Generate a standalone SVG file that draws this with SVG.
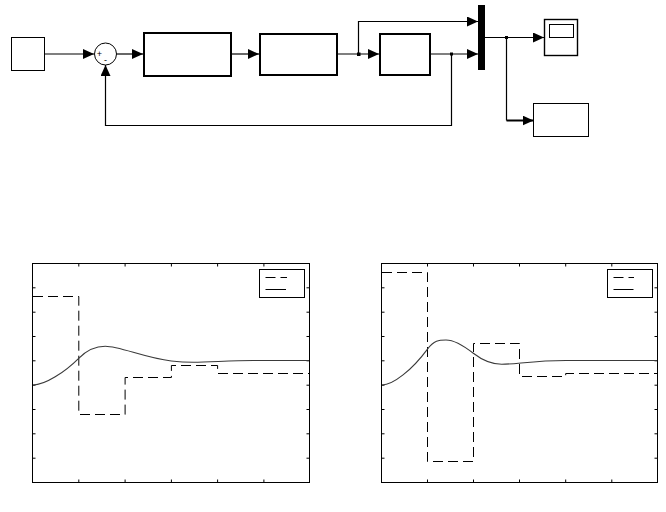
<svg xmlns="http://www.w3.org/2000/svg" width="666" height="512" viewBox="0 0 666 512">
<defs>
<style>
.blk{fill:#fff;stroke:#000;stroke-width:1}
.thk{fill:#fff;stroke:#000;stroke-width:2}
.wire{fill:none;stroke:#000;stroke-width:1.2}
.ax{fill:none;stroke:#000;stroke-width:1}
.tk{fill:none;stroke:#000;stroke-width:1}
.dash{fill:none;stroke:#000;stroke-width:1;stroke-dasharray:10,5}
.curve{fill:none;stroke:#3a3a3a;stroke-width:1.1}
.sgn{font-family:"Liberation Sans",Arial,sans-serif;font-size:9px;fill:#000;text-anchor:middle}
</style>
<marker id="ah" markerUnits="userSpaceOnUse" markerWidth="11" markerHeight="10" refX="11" refY="5" orient="auto">
<path d="M0,0 L11,5 L0,10 z" fill="#000"/>
</marker>
</defs>
<rect width="666" height="512" fill="#fff"/>

<g id="connectors">
<path class="wire" d="M44.5,54 H94" marker-end="url(#ah)"/>
<path class="wire" d="M116.5,54 H143" marker-end="url(#ah)"/>
<path class="wire" d="M232,54 H259" marker-end="url(#ah)"/>
<path class="wire" d="M337,54 H379" marker-end="url(#ah)"/>
<path class="wire" d="M358.5,54 V21.5 H478" marker-end="url(#ah)"/>
<path class="wire" d="M430,54 H478" marker-end="url(#ah)"/>
<path class="wire" d="M451.5,54 V125.5 H105.5 V65" marker-end="url(#ah)"/>
<path class="wire" d="M485,37.5 H544" marker-end="url(#ah)"/>
<path class="wire" d="M506.5,37.5 V120.5"/>
<path fill="none" stroke="#000" stroke-width="2" d="M506.5,120.5 H533.5" marker-end="url(#ah)"/>
<rect x="357" y="52.5" width="3.5" height="3.5" fill="#000"/>
<rect x="450" y="52.5" width="3" height="3" fill="#000"/>
<rect x="505" y="36" width="3" height="3" fill="#000"/>
</g>

<g id="constant"><rect class="blk" x="11.5" y="37.5" width="33" height="33"/></g>
<g id="sum">
<circle cx="105.5" cy="54" r="11" fill="#fff" stroke="#000" stroke-width="1"/>
<text class="sgn" x="99.5" y="57">+</text>
<text class="sgn" x="105.5" y="62.5">-</text>
</g>
<g id="block2"><rect class="thk" x="144" y="33" width="87" height="43"/></g>
<g id="block3"><rect class="thk" x="260" y="34" width="77" height="41"/></g>
<g id="block4"><rect class="thk" x="380" y="34" width="50" height="41"/></g>
<g id="mux"><rect x="478" y="5" width="7" height="65" fill="#000"/></g>
<g id="scope">
<rect x="544.5" y="19.5" width="33" height="36" fill="#fff" stroke="#000" stroke-width="1.4"/>
<rect x="549.5" y="24.5" width="24" height="13" fill="#fff" stroke="#000" stroke-width="1"/>
</g>
<g id="workspace"><rect class="blk" x="533.5" y="103.5" width="55" height="33"/></g>

<g id="plot1">
<rect class="ax" x="32.5" y="263.5" width="277" height="219" fill="#fff"/>
<path class="tk" d="M78.8,263.5v3 M125.1,263.5v3 M171.4,263.5v3 M217.6,263.5v3 M263.9,263.5v3
M78.8,482.5v-3 M125.1,482.5v-3 M171.4,482.5v-3 M217.6,482.5v-3 M263.9,482.5v-3
M32.5,287.8h3 M32.5,312.2h3 M32.5,336.5h3 M32.5,360.8h3 M32.5,385.2h3 M32.5,409.5h3 M32.5,433.8h3 M32.5,458.2h3
M309.5,287.8h-3 M309.5,312.2h-3 M309.5,336.5h-3 M309.5,360.8h-3 M309.5,385.2h-3 M309.5,409.5h-3 M309.5,433.8h-3 M309.5,458.2h-3"/>
<path class="dash" d="M33,296.5 H78.8 V414.5 H125.1 V377.5 H171.4 V365.5 H217.6 V373.5 H309"/>
<path class="curve" d="M33,385 C45,385 65,372 78.7,358.3 C87,350 95,346.3 105.3,346.3 C120,346.3 145,358 171.3,361 C180,362 186,362.3 193.3,362.3 C210,362.3 230,360.5 253.3,360.5 L309,360.5"/>
<rect class="ax" x="259.5" y="269.5" width="45" height="28" fill="#fff"/>
<path class="dash" d="M265.5,277.5 H287" stroke-dasharray="8,5"/>
<path class="ax" d="M265.5,289.5 H286"/>
</g>

<g id="plot2">
<rect class="ax" x="381.5" y="263.5" width="276" height="219" fill="#fff"/>
<path class="tk" d="M427.5,263.5v3 M473.5,263.5v3 M519.5,263.5v3 M565.7,263.5v3 M611.8,263.5v3
M427.5,482.5v-3 M473.5,482.5v-3 M519.5,482.5v-3 M565.7,482.5v-3 M611.8,482.5v-3
M381.5,287.8h3 M381.5,312.2h3 M381.5,336.5h3 M381.5,360.8h3 M381.5,385.2h3 M381.5,409.5h3 M381.5,433.8h3 M381.5,458.2h3
M657.5,287.8h-3 M657.5,312.2h-3 M657.5,336.5h-3 M657.5,360.8h-3 M657.5,385.2h-3 M657.5,409.5h-3 M657.5,433.8h-3 M657.5,458.2h-3"/>
<path class="dash" d="M382,272.5 H427.5 V461.5 H473.5 V343.5 H519.5 V376.5 H565.7 V373.5 H657"/>
<path class="curve" d="M382,385 C393,385 412,370 427.3,349.3 C434,340.2 439,340 446,340 C454,340 464,346 473.3,353.3 C482,360 492,364.3 501.7,364.3 C515,364.3 535,360.5 565.7,360.5 L657,360.5"/>
<rect class="ax" x="607.5" y="269.5" width="45" height="28" fill="#fff"/>
<path class="dash" d="M613.5,277.5 H634" stroke-dasharray="8,5"/>
<path class="ax" d="M613.5,289.5 H633.5"/>
</g>
</svg>
